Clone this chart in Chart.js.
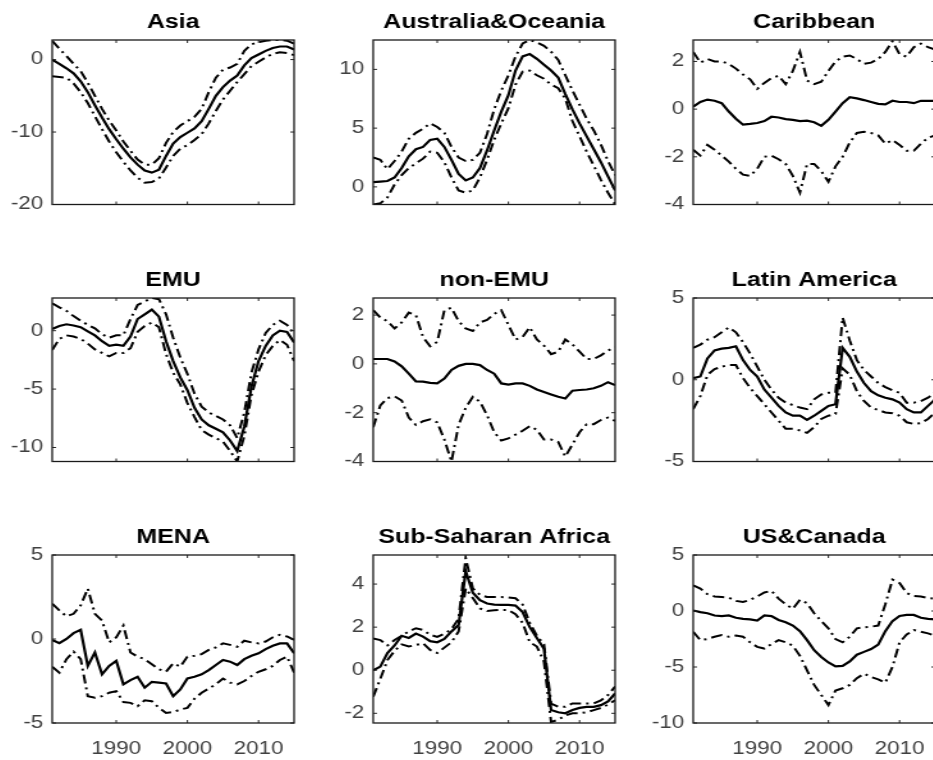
<!DOCTYPE html>
<html>
<head>
<meta charset="utf-8">
<title>Regional estimates with bands</title>
<script src="https://cdn.jsdelivr.net/npm/chart.js@4.4.0/dist/chart.umd.min.js"></script>
<style>
  html, body { margin: 0; padding: 0; background: #fff; overflow: hidden; }
  body { width: 933px; height: 760px; position: relative; }
  .panel { position: absolute; transform-origin: 0 0; transform: scaleX(1.28); }
  .panel canvas { display: block; }
</style>
</head>
<body>
<script>
// yearly observations, 1981-2015
const years = [1981, 1982, 1983, 1984, 1985, 1986, 1987, 1988, 1989, 1990,
  1991, 1992, 1993, 1994, 1995, 1996, 1997, 1998, 1999, 2000,
  2001, 2002, 2003, 2004, 2005, 2006, 2007, 2008, 2009, 2010,
  2011, 2012, 2013, 2014, 2015];
const yearTicks = [1990, 2000, 2010];

// Asia
const asiaEst = [0.0, -0.6, -1.2, -1.9, -3.0, -4.5, -6.3, -8.0, -9.6, -11.0, -12.3, -13.5, -14.5, -15.3, -15.6, -15.2, -13.3, -11.6, -10.7, -10.1, -9.5, -8.5, -6.8, -5.0, -3.8, -2.9, -2.2, -0.8, 0.2, 0.7, 1.2, 1.6, 1.8, 1.8, 1.4];
const asiaUp = [2.6, 1.5, 0.5, -0.6, -1.6, -3.2, -5.0, -6.8, -8.4, -9.8, -11.3, -12.6, -13.8, -14.5, -14.5, -13.6, -11.5, -10.0, -9.1, -8.5, -7.9, -6.8, -4.5, -2.5, -1.4, -1.1, -0.6, 1.2, 2.1, 2.4, 2.6, 2.7, 2.7, 2.6, 2.2];
const asiaLow = [-2.3, -2.4, -2.5, -3.3, -4.5, -6.0, -7.8, -9.6, -11.3, -12.8, -14.1, -15.3, -16.3, -17.0, -16.9, -16.4, -14.9, -13.3, -12.3, -11.8, -11.1, -10.3, -8.8, -7.1, -5.5, -4.3, -3.1, -2.0, -0.9, -0.3, 0.3, 0.8, 1.0, 0.9, 0.6];
const asiaTicks = [-20, -10, 0];

// Australia & Oceania
const ausEst = [0.4, 0.45, 0.5, 0.8, 1.6, 2.6, 3.2, 3.4, 4.0, 4.1, 3.4, 2.3, 1.1, 0.55, 0.8, 1.6, 3.1, 4.8, 6.4, 7.8, 9.9, 11.1, 11.3, 10.9, 10.4, 9.9, 9.3, 7.9, 6.6, 5.4, 4.3, 3.2, 2.1, 0.9, -0.3];
const ausUp = [2.5, 2.3, 1.5, 2.2, 3.0, 4.1, 4.6, 4.95, 5.4, 5.1, 4.6, 3.4, 2.5, 2.2, 2.3, 2.9, 4.5, 6.6, 8.2, 9.5, 11.1, 12.2, 12.5, 12.3, 12.0, 11.5, 10.8, 9.5, 8.2, 7.0, 5.8, 4.8, 3.6, 2.2, 1.0];
const ausLow = [-1.5, -1.4, -0.9, 0.2, 1.0, 1.6, 2.0, 2.4, 3.0, 2.9, 2.1, 0.8, -0.3, -0.5, -0.3, 0.8, 2.3, 4.0, 5.4, 6.7, 8.7, 9.8, 9.9, 9.5, 9.2, 8.7, 8.4, 7.5, 5.6, 4.3, 3.0, 1.8, 0.6, -0.5, -1.5];
const ausTicks = [0, 5, 10];

// Caribbean
const carEst = [0.1, 0.3, 0.4, 0.35, 0.25, -0.1, -0.4, -0.65, -0.62, -0.58, -0.5, -0.32, -0.35, -0.42, -0.45, -0.5, -0.48, -0.55, -0.7, -0.45, -0.1, 0.25, 0.5, 0.45, 0.38, 0.3, 0.22, 0.2, 0.35, 0.3, 0.3, 0.25, 0.35, 0.35, 0.35];
const carUp = [2.4, 1.95, 2.1, 2.0, 2.0, 1.9, 1.7, 1.45, 1.25, 0.85, 1.1, 1.3, 1.4, 1.05, 1.6, 2.4, 1.2, 1.05, 1.15, 1.6, 2.0, 2.2, 2.25, 2.1, 1.9, 1.95, 2.1, 2.4, 2.85, 2.3, 2.2, 2.6, 2.75, 2.6, 2.5];
const carLow = [-1.7, -1.95, -1.5, -1.7, -1.95, -2.2, -2.5, -2.75, -2.8, -2.5, -2.0, -1.95, -2.1, -2.3, -2.8, -3.5, -2.3, -2.3, -2.6, -3.05, -2.4, -2.0, -1.4, -1.0, -0.95, -1.0, -1.1, -1.45, -1.3, -1.5, -1.75, -1.75, -1.45, -1.2, -1.1];
const carTicks = [-4, -2, 0, 2];

// EMU
const emuEst = [0.15, 0.4, 0.55, 0.45, 0.3, -0.05, -0.4, -0.9, -1.3, -1.2, -1.3, -0.5, 1.0, 1.4, 1.8, 1.2, -0.9, -2.6, -4.0, -5.1, -6.6, -7.6, -8.1, -8.4, -8.7, -9.4, -10.3, -8.2, -4.8, -2.6, -1.3, -0.4, 0.0, -0.1, -1.0];
const emuUp = [2.35, 2.0, 1.7, 1.25, 0.85, 0.5, 0.2, -0.3, -0.6, -0.4, -0.4, 1.0, 2.2, 2.5, 2.8, 2.7, 1.4, -0.6, -2.3, -3.7, -5.4, -6.5, -7.0, -7.3, -7.6, -8.1, -9.2, -7.0, -3.6, -1.6, -0.2, 0.5, 0.85, 0.5, -0.3];
const emuLow = [-1.65, -0.7, -0.4, -0.5, -0.7, -1.1, -1.6, -1.9, -2.2, -1.9, -1.9, -1.5, -0.1, 0.4, 0.7, 0.3, -2.0, -3.6, -4.6, -6.2, -7.4, -8.5, -8.9, -9.2, -9.5, -10.3, -11.2, -9.0, -5.5, -3.5, -2.1, -1.3, -0.8, -1.2, -2.6];
const emuTicks = [-10, -5, 0];

// non-EMU
const nonEmuEst = [0.2, 0.2, 0.2, 0.1, -0.1, -0.4, -0.72, -0.73, -0.78, -0.8, -0.6, -0.25, -0.08, 0.0, 0.0, -0.05, -0.25, -0.4, -0.8, -0.85, -0.8, -0.8, -0.9, -1.05, -1.15, -1.25, -1.35, -1.42, -1.1, -1.07, -1.05, -1.0, -0.9, -0.75, -0.87];
const nonEmuUp = [2.2, 1.9, 1.75, 1.45, 1.7, 2.1, 2.0, 1.1, 0.72, 0.9, 2.2, 2.3, 1.75, 1.45, 1.35, 1.7, 1.8, 2.05, 2.2, 1.6, 1.0, 1.1, 1.5, 1.0, 0.75, 0.4, 0.5, 1.0, 0.8, 0.5, 0.2, 0.2, 0.35, 0.55, 0.68];
const nonEmuLow = [-2.6, -1.7, -1.4, -1.33, -1.5, -2.2, -2.5, -2.35, -2.27, -2.4, -3.1, -4.0, -2.5, -1.8, -1.35, -1.55, -2.1, -2.8, -3.14, -3.05, -2.9, -2.74, -2.55, -2.7, -3.1, -3.1, -3.2, -3.8, -3.3, -2.8, -2.47, -2.47, -2.3, -2.2, -2.34];
const nonEmuTicks = [-4, -2, 0, 2];

// Latin America
const latEst = [0.1, 0.2, 1.3, 1.8, 1.9, 1.95, 2.05, 1.2, 0.6, 0.2, -0.6, -1.1, -1.6, -2.0, -2.2, -2.2, -2.45, -2.2, -1.9, -1.6, -1.5, 1.95, 1.4, 0.5, -0.2, -0.7, -0.95, -1.1, -1.2, -1.4, -1.8, -2.0, -2.0, -1.6, -1.2];
const latUp = [1.95, 2.15, 2.45, 2.6, 2.9, 3.2, 2.9, 2.3, 1.6, 0.8, 0.0, -0.6, -1.1, -1.4, -1.55, -1.7, -1.8, -1.2, -0.9, -0.8, -0.8, 3.8, 2.4, 1.2, 0.6, 0.2, -0.2, -0.45, -0.65, -0.8, -1.4, -1.4, -1.3, -1.1, -0.8];
const latLow = [-1.8, -1.0, 0.3, 0.65, 0.8, 0.9, 0.9, 0.1, -0.5, -1.0, -1.5, -2.0, -2.5, -3.0, -3.0, -3.1, -3.25, -2.9, -2.4, -2.2, -2.1, 0.7, 0.3, -0.7, -1.3, -1.7, -1.85, -2.0, -2.05, -2.2, -2.6, -2.7, -2.65, -2.4, -2.0];
const latTicks = [-5, 0, 5];

// MENA
const menaEst = [-0.05, -0.25, 0.0, 0.35, 0.55, -1.6, -0.8, -2.1, -1.6, -1.3, -2.7, -2.45, -2.25, -2.9, -2.55, -2.6, -2.65, -3.4, -3.0, -2.35, -2.25, -2.1, -1.85, -1.55, -1.25, -1.35, -1.55, -1.2, -1.0, -0.85, -0.6, -0.4, -0.26, -0.26, -0.85];
const menaUp = [2.1, 1.7, 1.35, 1.5, 2.0, 3.0, 1.5, 1.1, -0.2, 0.1, 0.8, -0.8, -1.05, -1.2, -1.5, -1.8, -1.95, -1.45, -1.65, -1.05, -1.0, -0.9, -0.65, -0.5, -0.26, -0.35, -0.46, -0.1, -0.2, -0.26, -0.15, 0.1, 0.25, 0.15, -0.05];
const menaLow = [-1.65, -2.0, -1.2, -0.75, -1.2, -3.4, -3.5, -3.4, -3.2, -3.1, -3.75, -3.8, -4.0, -3.65, -3.7, -4.1, -4.4, -4.35, -4.2, -4.1, -3.55, -3.2, -2.95, -2.7, -2.35, -2.6, -2.7, -2.5, -2.2, -1.95, -1.8, -1.6, -1.25, -1.05, -2.0];
const menaTicks = [-5, 0, 5];

// Sub-Saharan Africa
const ssaEst = [0.0, 0.17, 0.8, 1.15, 1.6, 1.5, 1.7, 1.56, 1.35, 1.3, 1.45, 1.8, 2.1, 4.6, 3.6, 3.25, 3.1, 3.05, 3.03, 3.03, 3.0, 2.7, 2.0, 1.5, 1.0, -1.85, -1.95, -2.0, -1.85, -1.75, -1.7, -1.7, -1.62, -1.45, -1.08];
const ssaUp = [1.48, 1.4, 1.15, 1.4, 1.6, 1.8, 1.95, 1.87, 1.65, 1.55, 1.7, 1.9, 2.4, 5.2, 3.8, 3.5, 3.4, 3.4, 3.4, 3.38, 3.34, 3.05, 2.2, 1.6, 1.2, -1.55, -1.7, -1.7, -1.54, -1.54, -1.54, -1.54, -1.4, -1.15, -0.76];
const ssaLow = [-1.23, -0.4, 0.47, 0.9, 1.2, 1.1, 1.17, 1.25, 0.94, 0.8, 1.05, 1.3, 1.8, 3.8, 3.35, 2.87, 2.75, 2.78, 2.8, 2.8, 2.6, 2.2, 1.3, 1.1, 0.4, -2.4, -2.3, -2.1, -2.0, -2.0, -1.95, -1.85, -1.75, -1.6, -1.39];
const ssaTicks = [-2, 0, 2, 4];

// US & Canada
const usEst = [0.05, -0.1, -0.2, -0.4, -0.45, -0.4, -0.6, -0.7, -0.75, -0.85, -0.4, -0.45, -0.8, -1.0, -1.3, -1.8, -2.6, -3.5, -4.1, -4.6, -4.95, -4.9, -4.5, -3.9, -3.65, -3.4, -3.0, -1.8, -0.9, -0.45, -0.35, -0.35, -0.6, -0.7, -0.75];
const usUp = [2.3, 2.0, 1.5, 1.3, 1.25, 1.2, 0.9, 0.8, 1.0, 1.3, 1.65, 1.8, 1.1, 0.6, 0.2, 1.0, 0.7, -0.2, -0.9, -1.55, -2.5, -2.8, -2.3, -1.55, -1.45, -1.4, -1.3, 0.6, 2.8, 2.5, 1.6, 1.35, 1.3, 1.15, 1.1];
const usLow = [-1.85, -2.6, -2.5, -2.3, -2.15, -2.3, -2.2, -2.3, -2.8, -3.2, -3.35, -2.95, -2.6, -2.8, -3.1, -4.0, -5.3, -6.6, -7.5, -8.4, -7.1, -6.9, -6.6, -6.0, -5.6, -5.9, -6.1, -6.4, -5.0, -2.8, -2.1, -1.7, -1.85, -2.0, -2.2];
const usTicks = [-10, -5, 0, 5];

const panels = [
  { title: 'Asia', est: asiaEst, up: asiaUp, low: asiaLow, ticks: asiaTicks, min: -20, max: 2.7 },
  { title: 'Australia&Oceania', est: ausEst, up: ausUp, low: ausLow, ticks: ausTicks, min: -1.5, max: 12.5 },
  { title: 'Caribbean', est: carEst, up: carUp, low: carLow, ticks: carTicks, min: -4, max: 2.9 },
  { title: 'EMU', est: emuEst, up: emuUp, low: emuLow, ticks: emuTicks, min: -11.2, max: 2.8 },
  { title: 'non-EMU', est: nonEmuEst, up: nonEmuUp, low: nonEmuLow, ticks: nonEmuTicks, min: -4, max: 2.7 },
  { title: 'Latin America', est: latEst, up: latUp, low: latLow, ticks: latTicks, min: -5, max: 5 },
  { title: 'MENA', est: menaEst, up: menaUp, low: menaLow, ticks: menaTicks, min: -5, max: 5 },
  { title: 'Sub-Saharan Africa', est: ssaEst, up: ssaUp, low: ssaLow, ticks: ssaTicks, min: -2.45, max: 5.35 },
  { title: 'US&Canada', est: usEst, up: usUp, low: usLow, ticks: usTicks, min: -10, max: 5 }
];

// grid geometry (page pixels): plot-box left edges and [top, height] per row
const STRETCH = 1.28;
const colLeft = [52, 373, 693];
const rowBox = [[40, 170], [298, 169], [555, 168]];
const AXIS_W = 40;      // y-axis strip width, canvas px (same blank strip on the right)
const PLOT_W = 189;     // plot width, canvas px
const TITLE_H = 32;
const TITLE_TOP = 4.5;

Chart.defaults.font.family = '"Liberation Sans", Arial, Helvetica, sans-serif';
Chart.defaults.color = '#404040';

// box around each axes with small inward tick marks on all four sides
const axesBox = {
  id: 'axesBox',
  afterDatasetsDraw(chart) {
    const { ctx, chartArea: a, scales: { x, y } } = chart;
    const tl = 3;
    ctx.save();
    ctx.strokeStyle = '#262626';
    ctx.lineWidth = 1;
    ctx.beginPath();
    x.ticks.forEach(t => {
      const px = x.getPixelForValue(t.value);
      ctx.moveTo(px, a.bottom); ctx.lineTo(px, a.bottom - tl);
      ctx.moveTo(px, a.top); ctx.lineTo(px, a.top + tl);
    });
    y.ticks.forEach(t => {
      const py = y.getPixelForValue(t.value);
      ctx.moveTo(a.left, py); ctx.lineTo(a.left + tl, py);
      ctx.moveTo(a.right, py); ctx.lineTo(a.right - tl, py);
    });
    ctx.stroke();
    ctx.lineWidth = 1.3;
    ctx.strokeStyle = '#1a1a1a';
    ctx.strokeRect(a.left, a.top, a.right - a.left, a.bottom - a.top);
    ctx.restore();
  }
};

function series(values) {
  return years.map((yr, i) => ({ x: yr, y: values[i] }));
}

panels.forEach((p, i) => {
  const row = Math.floor(i / 3), col = i % 3;
  const bottomRow = row === 2;
  const xAxisH = bottomRow ? 40 : 12;
  const [top, plotH] = rowBox[row];
  const w = AXIS_W + PLOT_W + AXIS_W;
  const h = TITLE_H + plotH + xAxisH;

  const box = document.createElement('div');
  box.className = 'panel';
  box.style.left = (colLeft[col] - AXIS_W * STRETCH) + 'px';
  box.style.top = (top - TITLE_H) + 'px';
  const canvas = document.createElement('canvas');
  canvas.width = w;
  canvas.height = h;
  box.appendChild(canvas);
  document.body.appendChild(box);

  const band = { borderColor: '#000', borderWidth: 2, borderDash: [9, 4, 2, 4], pointRadius: 0 };

  new Chart(canvas, {
    type: 'line',
    data: {
      datasets: [
        Object.assign({ label: 'upper', data: series(p.up) }, band),
        Object.assign({ label: 'lower', data: series(p.low) }, band),
        { label: 'estimate', data: series(p.est), borderColor: '#000', borderWidth: 2.2, pointRadius: 0 }
      ]
    },
    options: {
      responsive: false,
      animation: false,
      events: [],
      layout: { padding: 0 },
      plugins: {
        legend: { display: false },
        tooltip: { enabled: false },
        title: {
          display: true,
          text: p.title,
          color: '#000',
          font: { size: 19.5, weight: 'bold', lineHeight: 1 },
          padding: { top: TITLE_TOP, bottom: TITLE_H - TITLE_TOP - 19.5 }
        }
      },
      scales: {
        x: {
          type: 'linear',
          min: 1981,
          max: 2015,
          grid: { display: false, drawTicks: false },
          border: { display: false },
          afterBuildTicks: s => { s.ticks = yearTicks.map(v => ({ value: v })); },
          afterFit: s => { s.height = xAxisH; },
          ticks: {
            display: bottomRow,
            padding: 16,
            maxRotation: 0,
            font: { size: 17.5 },
            callback: v => String(v)
          }
        },
        y: {
          min: p.min,
          max: p.max,
          grid: { display: false, drawTicks: false },
          border: { display: false },
          afterBuildTicks: s => { s.ticks = p.ticks.map(v => ({ value: v })); },
          afterFit: s => { s.width = AXIS_W; },
          ticks: {
            padding: 7,
            font: { size: 17.5 },
            callback: v => String(v)
          }
        },
        // blank strip on the right so the title centres over the plot box
        yRight: {
          position: 'right',
          grid: { display: false, drawTicks: false },
          border: { display: false },
          ticks: { display: false },
          afterFit: s => { s.width = AXIS_W; }
        }
      }
    },
    plugins: [axesBox]
  });
});
</script>
</body>
</html>
